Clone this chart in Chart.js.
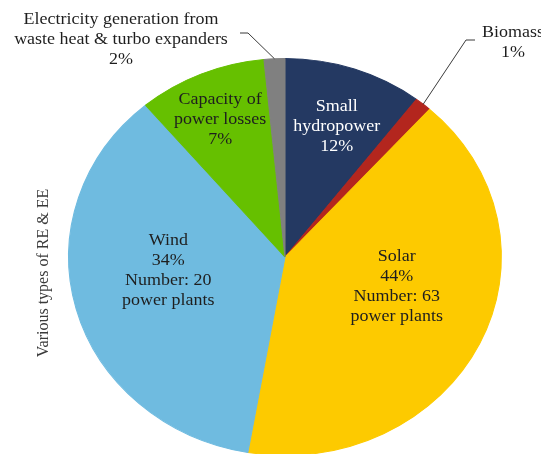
<!DOCTYPE html>
<html>
<head>
<meta charset="utf-8">
<script src="https://cdn.jsdelivr.net/npm/chart.js@4.4.0/dist/chart.umd.min.js"></script>
<style>
  html, body { margin: 0; padding: 0; background: #fff; overflow: hidden; }
  #wrap { width: 541px; height: 454px; overflow: hidden; }
</style>
</head>
<body>
<div id="wrap"><canvas id="pieChart" width="541" height="470"></canvas></div>
<script>
// categorias em sentido horário a partir do topo
const categorias = ['Small hydropower', 'Biomass', 'Solar', 'Wind', 'Capacity of power losses',
    'Electricity generation from waste heat & turbo expanders'];
// nome quebrado em linhas, como no rótulo
const linhasNome = [['Small', 'hydropower'], ['Biomass'], ['Solar'], ['Wind'],
    ['Capacity of', 'power losses'], ['Electricity generation from', 'waste heat & turbo expanders']];
const participacao = [10.4, 1.25, 41.1, 36.1, 9.6, 1.55];
// percentuais escritos nos rótulos
const rotulosPct = ['12%', '1%', '44%', '34%', '7%', '2%'];
const numeroUsinas = [null, null, 63, 20, null, null];
const tituloEixo = 'Various types of RE & EE';

const cores = ['#243962', '#b3261e', '#fdca00', '#6fbbe0', '#66c000', '#808080'];
const corTexto = ['#ffffff', '#1e1e1e', '#1e1e1e', '#1e1e1e', '#1e1e1e', '#1e1e1e'];

// posição dos rótulos: dentro (ângulo em graus a partir do topo, fração do raio)
// ou fora (cotovelo, fim da linha e centro do texto, relativos ao centro)
const posRotulo = [
    { ang: 20, r: 0.70 },
    { fora: true, cotovelo: [181, -217], fim: [190, -217], texto: [228, -214] },
    { ang: 106.3, r: 0.538 },
    { ang: 262.6, r: 0.544 },
    { ang: 336.6, r: 0.755 },
    { fora: true, cotovelo: [-37, -224], fim: [-45, -224], texto: [-164, -217] }
];

const ESTICA = 1.09;      // a imagem original é esticada na horizontal
const ALTURA_LINHA = 20;
const FONTE = '16.5px "Liberation Serif", "Times New Roman", serif';

const elipse = {
    id: 'elipse',
    beforeDatasetsDraw(chart) {
        const arco = chart.getDatasetMeta(0).data[0];
        const ctx = chart.ctx;
        ctx.save();
        ctx.translate(arco.x, 0);
        ctx.scale(ESTICA, 1);
        ctx.translate(-arco.x, 0);
    },
    afterDatasetsDraw(chart) {
        chart.ctx.restore();
    }
};

function escreverBloco(ctx, linhas, x, y, cor) {
    ctx.fillStyle = cor;
    ctx.font = FONTE;
    ctx.textAlign = 'center';
    ctx.textBaseline = 'middle';
    const topo = y - (linhas.length - 1) * ALTURA_LINHA / 2;
    linhas.forEach((l, i) => {
        ctx.save();
        ctx.translate(x, topo + i * ALTURA_LINHA);
        ctx.scale(ESTICA, 1);
        ctx.fillText(l, 0, 0);
        ctx.restore();
    });
}

const rotulos = {
    id: 'rotulos',
    afterDraw(chart) {
        const ctx = chart.ctx;
        const arcos = chart.getDatasetMeta(0).data;
        const cx = arcos[0].x, cy = arcos[0].y, R = arcos[0].outerRadius;

        arcos.forEach((arco, i) => {
            const linhas = linhasNome[i].slice();
            linhas.push(rotulosPct[i]);
            if (numeroUsinas[i] != null) {
                linhas.push('Number: ' + numeroUsinas[i]);
                linhas.push('power plants');
            }
            const p = posRotulo[i];
            if (p.fora) {
                const meio = (arco.startAngle + arco.endAngle) / 2;
                const x0 = cx + ESTICA * R * Math.cos(meio);
                const y0 = cy + R * Math.sin(meio);
                ctx.save();
                ctx.strokeStyle = '#3a3a3a';
                ctx.lineWidth = 1;
                ctx.beginPath();
                ctx.moveTo(x0, y0);
                ctx.lineTo(cx + p.cotovelo[0], cy + p.cotovelo[1]);
                ctx.lineTo(cx + p.fim[0], cy + p.fim[1]);
                ctx.stroke();
                ctx.restore();
                escreverBloco(ctx, linhas, cx + p.texto[0], cy + p.texto[1], corTexto[i]);
            } else {
                const a = p.ang * Math.PI / 180;
                const x = cx + ESTICA * p.r * R * Math.sin(a);
                const y = cy - p.r * R * Math.cos(a);
                escreverBloco(ctx, linhas, x, y, corTexto[i]);
            }
        });

        // título do eixo, na vertical
        ctx.save();
        ctx.translate(44, cy + 16);
        ctx.rotate(-Math.PI / 2);
        ctx.fillStyle = '#3a3a3a';
        ctx.font = '16px "Liberation Serif", "Times New Roman", serif';
        ctx.textAlign = 'center';
        ctx.textBaseline = 'middle';
        ctx.fillText(tituloEixo, 0, 0);
        ctx.restore();
    }
};

new Chart(document.getElementById('pieChart'), {
    type: 'pie',
    data: {
        labels: categorias,
        datasets: [{
            data: participacao,
            backgroundColor: cores,
            borderColor: cores,
            borderWidth: 1,
            clip: false
        }]
    },
    options: {
        responsive: false,
        animation: false,
        events: [],
        layout: { padding: { top: 58, bottom: 14, left: 86, right: 57 } },
        plugins: {
            legend: { display: false },
            tooltip: { enabled: false }
        }
    },
    plugins: [elipse, rotulos]
});
</script>
</body>
</html>
